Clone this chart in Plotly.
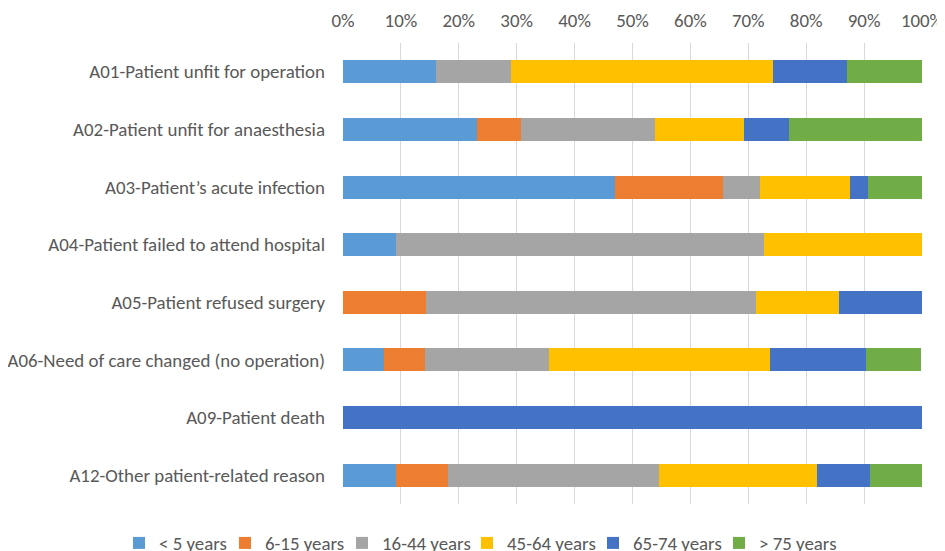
import plotly.graph_objects as go

categories = [
    "A01-Patient unfit for operation",
    "A02-Patient unfit for anaesthesia",
    "A03-Patient\u2019s acute infection",
    "A04-Patient failed to attend hospital",
    "A05-Patient refused surgery",
    "A06-Need of care changed (no operation)",
    "A09-Patient death",
    "A12-Other patient-related reason",
]

series_names = ["< 5 years", "6-15 years", "16-44 years", "45-64 years", "65-74 years", "> 75 years"]

under5 = [16.1, 23.1, 46.9, 9.1, 0.0, 7.1, 0.0, 9.1]
y6_15 = [0.0, 7.7, 18.8, 0.0, 14.3, 7.1, 0.0, 9.1]
y16_44 = [12.9, 23.1, 6.3, 63.6, 57.1, 21.4, 0.0, 36.4]
y45_64 = [45.2, 15.4, 15.6, 27.3, 14.3, 38.1, 0.0, 27.3]
y65_74 = [12.9, 7.7, 3.1, 0.0, 14.3, 16.7, 100.0, 9.1]
over75 = [12.9, 23.1, 9.4, 0.0, 0.0, 9.5, 0.0, 9.1]

values = [under5, y6_15, y16_44, y45_64, y65_74, over75]
colors = ["#5B9BD5", "#ED7D31", "#A5A5A5", "#FFC000", "#4472C4", "#70AD47"]

# left edge (in page pixels) of each legend swatch
legend_swatch_x = [133, 239, 356, 481, 607, 733]

FIG_W, FIG_H = 937, 543
font_family = "Carlito, Calibri, Lato, sans-serif"
FS = 18.9

fig = go.Figure()
legend_layouts = {}
for i, (name, vals, col) in enumerate(zip(series_names, values, colors)):
    lname = "legend" if i == 0 else f"legend{i + 1}"
    fig.add_trace(go.Bar(
        y=categories, x=vals, name=name, orientation="h",
        marker=dict(color=col, line=dict(width=0)),
        width=0.4, legend=lname, showlegend=True,
        hovertemplate="%{y}<br>" + name + ": %{x:.1f}%<extra></extra>",
    ))
    left = (legend_swatch_x[i] - 8 - 14) / FIG_W
    legend_layouts[lname] = dict(
        orientation="h", xref="container", x=left, xanchor="left",
        yref="container", y=0.0495, yanchor="top",
        font=dict(family=font_family, size=FS, color="#595959"),
        itemwidth=30, bgcolor="rgba(0,0,0,0)", borderwidth=0,
    )

fig.update_layout(
    barmode="stack",
    showlegend=True,
    width=FIG_W, height=FIG_H,
    margin=dict(l=335, r=23, t=35, b=47, autoexpand=False),
    paper_bgcolor="white", plot_bgcolor="white",
    font=dict(family=font_family, size=FS, color="#595959"),
    xaxis=dict(
        side="top", range=[0, 100], tickvals=[0, 10, 20, 30, 40, 50, 60, 70, 80, 90, 100],
        ticktext=["0%", "10%", "20%", "30%", "40%", "50%", "60%", "70%", "80%", "90%", "100%"],
        showgrid=True, gridcolor="#D9D9D9", gridwidth=1, zeroline=False,
        showline=False, ticks="", ticklabelstandoff=11, fixedrange=True, automargin=False,
    ),
    yaxis=dict(
        autorange="reversed", showgrid=False, zeroline=False, showline=False,
        ticks="", ticklabelstandoff=17, automargin=False,
    ),
    bargap=0.6,
    **legend_layouts,
)

fig.write_html("out.html")
